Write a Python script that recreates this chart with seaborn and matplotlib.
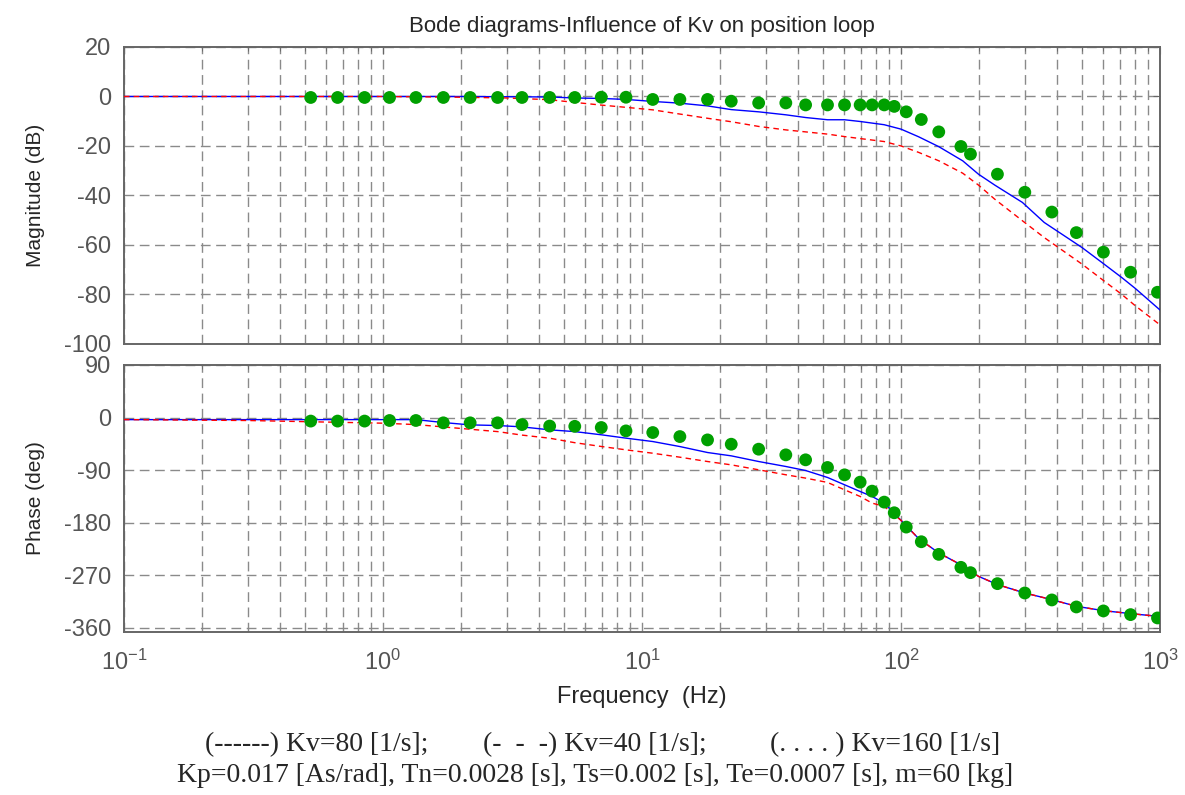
import numpy as np
import pandas as pd
import matplotlib
matplotlib.use('Agg')
import matplotlib.pyplot as plt
import matplotlib.ticker as mticker
import seaborn as sns

# frequencies (Hz) of the line curves
mag_f = [0.1, 0.3, 1, 2, 3, 4.4, 5.5, 7.0, 8.7, 11, 14, 17.9, 22.1, 28.2, 35.9, 42.8, 52,
         60.5, 69.5, 86, 100, 117, 140, 173, 199, 230, 294, 357, 499, 595, 710, 803, 1000]
kv80_mag = [0, 0, 0, 0, -0.1, -0.2, -0.6, -0.8, -1.2, -2, -2.7, -3.8, -5.3, -6.2, -7.4, -8.5, -9.4,
            -9.4, -10.1, -11.4, -13.2, -16.3, -20.3, -26, -31.4, -35.8, -42.8, -50.9, -61, -67, -73.1, -77.6, -86.3]
kv40_mag = [0, 0, 0, -0.3, -0.6, -1.3, -2.4, -3.5, -4.4, -5.4, -7.1, -8.8, -10.2, -12.1, -13.5, -14.3, -15.2,
            -16.2, -17, -18.2, -20, -22.6, -26, -31, -35.8, -41.5, -50.2, -57, -67.7, -73.8, -79.9, -84.6, -92.3]

phase_f = [0.1, 0.3, 1, 1.34, 1.71, 2.17, 2.77, 3.44, 4.4, 5.5, 7, 8.7, 11, 14, 17.9, 22.1, 28.2, 35.9,
           42.8, 52, 60.5, 69.5, 77.3, 86.1, 100, 117, 140, 170, 199, 236, 300, 382, 475, 604, 769, 977, 1000]
kv80_phase = [-3.5, -3.5, -3.5, -3.5, -8.5, -12.5, -13.6, -15.9, -21, -24, -29.6, -35.3, -41, -49.6, -59.8, -65.5,
              -75.2, -83.7, -90.6, -102.5, -115, -126.5, -135, -146.4, -176, -207.3, -231.8, -251.8, -271.7,
              -285.9, -300.2, -311.6, -323, -330.4, -335.5, -340, -340.5]
kv40_phase = [-3.5, -5, -9.6, -12, -16, -20, -24, -30, -35.3, -43, -49.6, -55.3, -61, -67.8, -75.2, -80.9,
              -89.4, -97.9, -103.6, -111, -123.6, -135, -146.4, -152, -176, -207.3, -231.8, -251.8, -271.7,
              -285.9, -300.2, -311.6, -323, -330.4, -335.5, -340, -340.5]

# Kv=160 dotted series (markers)
dot_f = [0.526, 0.668, 0.849, 1.06, 1.34, 1.71, 2.17, 2.77, 3.44, 4.4, 5.5, 6.96, 8.67, 11.0, 14.0, 17.9,
         22.1, 28.2, 35.9, 42.8, 52.0, 60.5, 69.5, 77.3, 86.1, 94.1, 104.7, 119.7, 139.8, 170.2, 185.3,
         235.5, 300.4, 382, 475, 604, 769, 977]
kv160_mag = [-0.4, -0.4, -0.4, -0.4, -0.4, -0.4, -0.4, -0.4, -0.4, -0.4, -0.4, -0.3, -0.3, -1.2, -1.2, -1.2,
             -1.9, -2.6, -2.6, -3.4, -3.4, -3.4, -3.4, -3.4, -3.4, -4.0, -6.2, -9.3, -14.3, -20.2, -23.3,
             -31.4, -38.7, -46.7, -55.0, -62.9, -71.0, -79.1]
kv160_phase = [-6, -6, -6, -5, -5, -9, -9, -9, -12, -14.5, -15, -17, -22.8, -25.6, -32.5, -38.2,
               -45.6, -54.1, -63.8, -72.3, -85.4, -98, -110.5, -125.9, -144.7, -162.9, -187.4, -212.5,
               -234.1, -256.3, -265.4, -284.2, -300.2, -312.1, -324.1, -330.9, -337.2, -342.9]

mag_df = pd.DataFrame({'f': mag_f, 'kv80': kv80_mag, 'kv40': kv40_mag})
ph_df = pd.DataFrame({'f': phase_f, 'kv80': kv80_phase, 'kv40': kv40_phase})
dot_df = pd.DataFrame({'f': dot_f, 'mag': kv160_mag, 'phase': kv160_phase})

sns.set_style('white')
plt.rcParams['font.family'] = ['Liberation Sans', 'DejaVu Sans']
plt.rcParams['axes.unicode_minus'] = False

fig = plt.figure(figsize=(11.85, 7.95), dpi=100)
ax1 = fig.add_axes([0.1046, 0.5673, 0.8744, 0.3736])
ax2 = fig.add_axes([0.1046, 0.2050, 0.8744, 0.3359])

gray = '#666666'
grid_kw = dict(color='#8a8a8a', linestyle=(0, (7, 4)), linewidth=1.0)

for ax, df, dcol in [(ax1, mag_df, 'mag'), (ax2, ph_df, 'phase')]:
    sns.lineplot(data=df, x='f', y='kv80', ax=ax, color='#0000ff', linewidth=1.0, zorder=3)
    sns.lineplot(data=df, x='f', y='kv40', ax=ax, color='#ff0000', linewidth=1.0,
                 linestyle=(0, (4, 3)), zorder=3)
    sns.scatterplot(data=dot_df, x='f', y=dcol, ax=ax, color='#00a000', s=85,
                    edgecolor='none', zorder=4)
    ax.set_xscale('log')
    ax.set_xlim(0.1, 1000)
    ax.xaxis.set_minor_locator(mticker.LogLocator(base=10, subs=np.arange(2, 10)))
    ax.xaxis.set_minor_formatter(mticker.NullFormatter())
    ax.grid(True, which='both', axis='x', **grid_kw)
    ax.grid(True, which='major', axis='y', **grid_kw)
    ax.set_axisbelow(True)
    ax.tick_params(axis='both', which='both', direction='in', top=True, right=True,
                   color=gray, labelcolor='#555555', labelsize=17)
    ax.tick_params(axis='y', which='major', length=5, pad=9)
    ax.tick_params(axis='x', which='major', length=5, pad=13)
    ax.tick_params(axis='x', which='minor', length=3)
    for s in ax.spines.values():
        s.set_color(gray)
        s.set_linewidth(1.4)
    ax.set_xlabel('')

ax1.set_ylim(-100, 20)
ax1.set_yticks(np.arange(-100, 21, 20))
ax1.tick_params(axis='x', labelbottom=False)
ax1.set_ylabel('Magnitude (dB)', fontsize=15, labelpad=14)
ax1.set_title('Bode diagrams-Influence of Kv on position loop', fontsize=16, pad=11)

ax2.set_ylim(-367, 90)
ax2.set_yticks([90, 0, -90, -180, -270, -360])
ax2.set_ylabel('Phase (deg)', fontsize=15, labelpad=14)
ax2.set_xlabel('Frequency  (Hz)', fontsize=17, labelpad=8)

serif = ['Liberation Serif', 'DejaVu Serif']
fig.text(0.173, 0.064, '(------) Kv=80 [1/s];', family=serif, fontsize=20, va='center')
fig.text(0.408, 0.064, '(-  -  -) Kv=40 [1/s];', family=serif, fontsize=20, va='center')
fig.text(0.650, 0.064, '(. . . . ) Kv=160 [1/s]', family=serif, fontsize=20, va='center')
fig.text(0.502, 0.025, 'Kp=0.017 [As/rad], Tn=0.0028 [s], Ts=0.002 [s], Te=0.0007 [s], m=60 [kg]',
         family=serif, fontsize=20, va='center', ha='center')

fig.savefig('out.png', dpi=100)
